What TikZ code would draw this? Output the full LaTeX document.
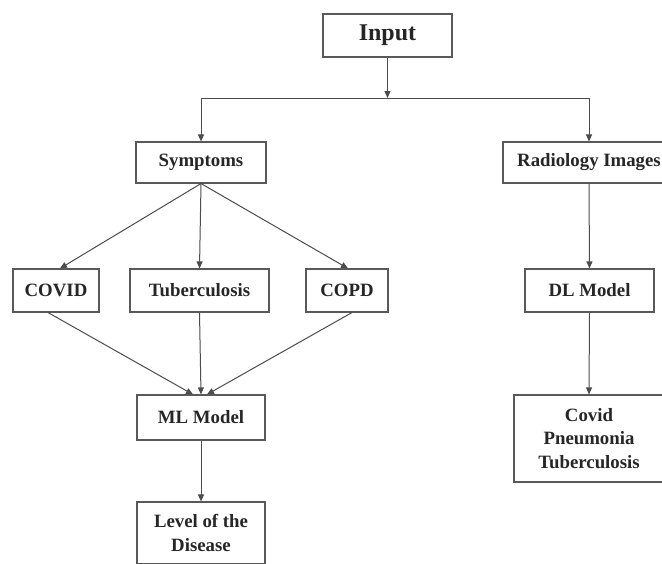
\documentclass[tikz,border=0pt]{standalone}
\usepackage{fontspec}
\setmainfont{Liberation Serif}
\usetikzlibrary{arrows.meta,calc}
\begin{document}
\begin{tikzpicture}[x=1pt,y=-1pt,
  box/.style={draw=black!65,line width=1.1pt,fill=white,inner sep=0pt,align=center,
    font=\fontsize{18.8}{23.5}\selectfont\bfseries,text=black!85},
  conn/.style={draw=black!70,line width=1pt},
  arr/.style={conn,-{Triangle[length=7pt,width=6pt]}}]
\useasboundingbox (0,0) rectangle (662,563);
\node[box,minimum width=129pt,minimum height=43pt,font=\fontsize{24}{28}\selectfont\bfseries] (input) at (387.5,35.5) {Input};
\node[box,minimum width=130pt,minimum height=41pt] (sym) at (201,162.5) {Symptoms};
\node[box,minimum width=172pt,minimum height=41pt] (rad) at (589,162.5) {Radiology Images};
\node[box,minimum width=86pt,minimum height=43pt] (covid) at (56,290.5) {COVID};
\node[box,minimum width=139pt,minimum height=43pt] (tb) at (199.5,290.5) {Tuberculosis};
\node[box,minimum width=82pt,minimum height=43pt] (copd) at (347,290.5) {COPD};
\node[box,minimum width=129pt,minimum height=43pt] (dl) at (589.5,290.5) {DL Model};
\node[box,minimum width=128pt,minimum height=45pt] (ml) at (201,417.5) {ML Model};
\node[box,minimum width=128pt,minimum height=62pt] (level) at (201,533) {Level of the\\Disease};
\node[box,minimum width=150pt,minimum height=87pt] (out) at (589,438.5) {Covid\\Pneumonia\\Tuberculosis};
\coordinate (jn) at (387.5,98);
\coordinate (jl) at (201,98);
\coordinate (jr) at (589,98);
\draw[arr] (input.south) -- (jn);
\draw[conn] (jl) -- (jr);
\draw[arr] (jl) -- (sym.north);
\draw[arr] (jr) -- (rad.north);
\draw[arr] (sym.south) -- ([xshift=4pt]covid.north);
\draw[arr] (sym.south) -- (tb.north);
\draw[arr] (sym.south) -- ([xshift=1pt]copd.north);
\draw[arr] ([xshift=-8pt]covid.south) -- ([xshift=-8pt]ml.north);
\draw[arr] (tb.south) -- (ml.north);
\draw[arr] ([xshift=5pt]copd.south) -- ([xshift=6pt]ml.north);
\draw[arr] (ml.south) -- (level.north);
\draw[arr] (rad.south) -- (dl.north);
\draw[arr] (dl.south) -- (out.north);
\end{tikzpicture}
\end{document}
